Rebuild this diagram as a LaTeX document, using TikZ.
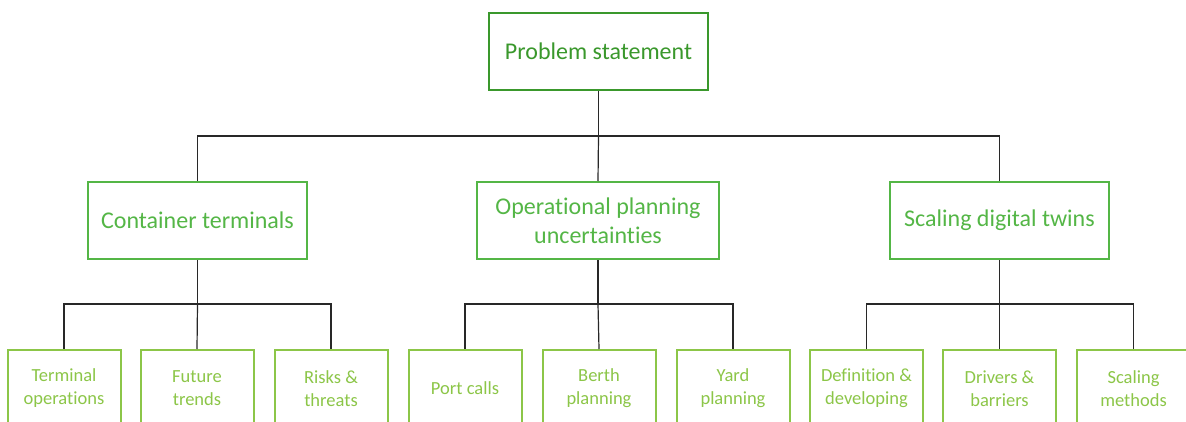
\documentclass[tikz,border=0pt]{standalone}
\usepackage{fontspec}
\setmainfont{Carlito}[Ligatures={NoCommon}]
\begin{document}
\begin{tikzpicture}[x=1pt,y=1pt,
  box/.style={draw, line width=2pt, fill=white, align=center, inner sep=0pt},
  lvlone/.style={box, draw=greenA, text=greenA, minimum width=219pt, minimum height=77pt,
    font=\fontsize{24}{29}\selectfont},
  lvltwo/.style={box, draw=greenB, text=greenB, minimum width=219pt, minimum height=77pt,
    font=\fontsize{24}{29}\selectfont},
  lvlthree/.style={box, draw=greenC, text=greenC, minimum width=113pt, minimum height=77pt,
    font=\fontsize{18.5}{23}\selectfont},
  link/.style={draw=linkgray, line width=1.2pt}]
\definecolor{greenA}{RGB}{58,152,44}
\definecolor{greenB}{RGB}{84,182,70}
\definecolor{greenC}{RGB}{140,198,72}
\definecolor{linkgray}{RGB}{40,40,40}
\clip (0,0) rectangle (1186,421);
\fill[white] (0,0) rectangle (1186,421);

% root
\node[lvlone] (root) at (598.5,369.5) {Problem statement};

% second level
\node[lvltwo] (ct) at (197.5,200.5) {Container terminals};
\node[lvltwo, minimum width=242pt] (op) at (598,200.5) {Operational planning\\uncertainties};
\node[lvltwo] (sd) at (999.5,200.5) {Scaling digital twins};

% third level
\node[lvlthree] (t1) at (64,32.5) {Terminal\\operations};
\node[lvlthree] (t2) at (197,32.5) {Future\\trends};
\node[lvlthree] (t3) at (331,32.5) {Risks \&\\threats};
\node[lvlthree] (o1) at (465,32.5) {Port calls};
\node[lvlthree] (o2) at (599,32.5) {Berth\\planning};
\node[lvlthree] (o3) at (733,32.5) {Yard\\planning};
\node[lvlthree] (s1) at (866.5,32.5) {Definition \&\\developing};
\node[lvlthree] (s2) at (999.5,32.5) {Drivers \&\\barriers};
\node[lvlthree] (s3) at (1133.5,32.5) {Scaling\\methods};

% bus junctions
\coordinate (jr) at (598.5,285);
\coordinate (jc) at (197.5,117);
\coordinate (jo) at (598,117);
\coordinate (js) at (999.5,117);

\path[link] (root.south) -- (jr);
\path[link] (jr) -| (ct.north);
\path[link] (jr) -- (op.north);
\path[link] (jr) -| (sd.north);

\path[link] (ct.south) -- (jc);
\path[link] (jc) -| (t1.north);
\path[link] (jc) -- (t2.north);
\path[link] (jc) -| (t3.north);

\path[link] (op.south) -- (jo);
\path[link] (jo) -| (o1.north);
\path[link] (jo) -- (o2.north);
\path[link] (jo) -| (o3.north);

\path[link] (sd.south) -- (js);
\path[link] (js) -| (s1.north);
\path[link] (js) -- (s2.north);
\path[link] (js) -| (s3.north);
\end{tikzpicture}
\end{document}
